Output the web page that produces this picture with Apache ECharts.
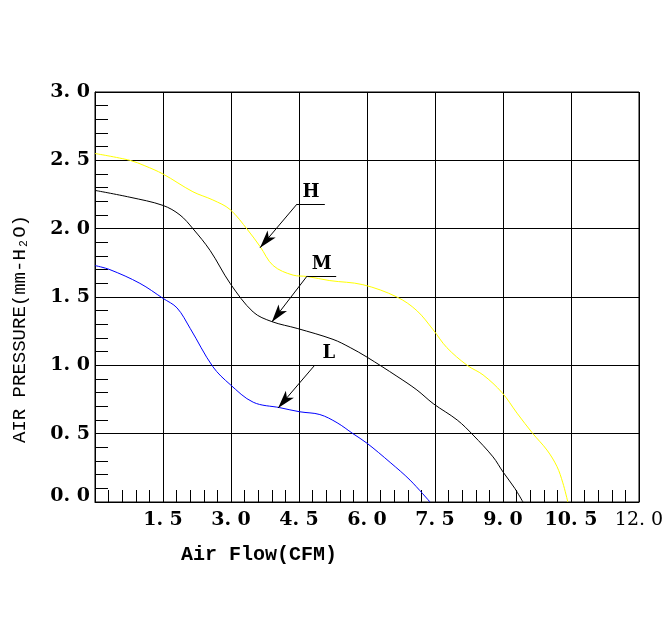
<!DOCTYPE html>
<html>
<head>
<meta charset="utf-8">
<script src="https://cdn.jsdelivr.net/npm/echarts@6/dist/echarts.min.js"></script>
<style>html,body{margin:0;padding:0;background:#fff;}#c{width:667px;height:630px;}</style>
</head>
<body>
<div id="c"></div>
<script>
// Air flow (CFM) / pressure (mm-H2O) readings
const hFlow = [0, 0.77, 1.1, 1.5, 2.16, 2.6, 2.98, 3.37, 3.64, 3.93, 4.37, 4.68, 5.18, 5.91, 6.66, 7.10, 7.46, 7.76, 8.21, 8.56, 8.98, 9.31, 9.66, 9.97, 10.19, 10.32, 10.43];
const hPres = [2.55, 2.50, 2.46, 2.40, 2.27, 2.21, 2.14, 1.99, 1.87, 1.73, 1.66, 1.65, 1.62, 1.59, 1.50, 1.40, 1.26, 1.13, 1.00, 0.93, 0.80, 0.65, 0.50, 0.38, 0.26, 0.14, 0];
const mFlow = [0, 0.77, 1.5, 1.875, 2.16, 2.54, 2.98, 3.49, 3.90, 4.46, 5.25, 5.63, 6.0, 6.66, 7.10, 7.46, 7.99, 8.34, 8.78, 9.0, 9.26, 9.44];
const mPres = [2.28, 2.23, 2.17, 2.10, 2.00, 1.84, 1.60, 1.39, 1.32, 1.27, 1.19, 1.13, 1.06, 0.92, 0.82, 0.72, 0.60, 0.49, 0.33, 0.22, 0.10, 0];
const lFlow = [0, 0.33, 0.99, 1.5, 1.81, 2.1, 2.60, 2.98, 3.49, 4.08, 4.52, 4.96, 5.34, 5.69, 6.0, 6.51, 6.95, 7.39];
const lPres = [1.73, 1.70, 1.60, 1.49, 1.42, 1.27, 0.99, 0.86, 0.73, 0.69, 0.66, 0.64, 0.58, 0.50, 0.43, 0.29, 0.16, 0];

const seriesNames = ['H', 'M', 'L'];
// annotation anchors in data units: [underline start, underline end, arrow tip]
const annH = [[4.456, 2.18], [5.07, 2.18], [3.64, 1.86]];
const annM = [[4.68, 1.654], [5.32, 1.654], [3.90, 1.317]];
const annL = [[4.85, 1.002], [5.47, 1.002], [4.04, 0.688]];

const xTicks = {min: 0, max: 12, interval: 1.5};
const yTicks = {min: 0, max: 3, interval: 0.5};

const zip = (a, b) => a.map((v, i) => [v, b[i]]);
const fmt = v => v.toFixed(1).replace('.', '. ');
const numFont = '"DejaVu Serif", serif';

function annLines(a, name) {
  return [
    [{coord: a[0], symbol: 'none'}, {coord: a[2], symbol: 'arrow'}],
    [{coord: a[0], symbol: 'none', label: {show: true, formatter: name, position: 'insideMiddleTop', distance: 3,
      fontFamily: numFont, fontWeight: 'bold', fontSize: 18, color: '#000'}},
     {coord: a[1], symbol: 'none'}]
  ];
}

const chart = echarts.init(document.getElementById('c'), null, {renderer: 'canvas'});
chart.setOption({
  animation: false,
  backgroundColor: '#fff',
  grid: {left: 95, right: 28, top: 92, bottom: 128, containLabel: false,
         show: true, borderColor: '#000', borderWidth: 1},
  xAxis: {
    type: 'value', min: xTicks.min, max: xTicks.max, interval: xTicks.interval,
    axisLine: {show: true, lineStyle: {color: '#000', width: 1}},
    axisTick: {show: true, inside: true, length: 12, lineStyle: {color: '#000'}},
    minorTick: {show: true, splitNumber: 5, length: 12, lineStyle: {color: '#000'}},
    splitLine: {show: true, lineStyle: {color: '#000', width: 1}},
    axisLabel: {
      showMinLabel: false, margin: 9,
      formatter: v => (v === 12 ? '{n|' + fmt(v) + '}' : '{b|' + fmt(v) + '}'),
      rich: {
        b: {fontFamily: numFont, fontWeight: 'bold', fontSize: 19, color: '#000'},
        n: {fontFamily: numFont, fontWeight: 'normal', fontSize: 19, color: '#000'}
      }
    }
  },
  yAxis: {
    type: 'value', min: yTicks.min, max: yTicks.max, interval: yTicks.interval,
    axisLine: {show: true, lineStyle: {color: '#000', width: 1}},
    axisTick: {show: true, inside: true, length: 13, lineStyle: {color: '#000'}},
    minorTick: {show: true, splitNumber: 5, length: 13, lineStyle: {color: '#000'}},
    splitLine: {show: true, lineStyle: {color: '#000', width: 1}},
    axisLabel: {
      margin: 5,
      formatter: v => (v === 0 ? '{z|' + fmt(v) + '}' : '{b|' + fmt(v) + '}'),
      rich: {
        b: {fontFamily: numFont, fontWeight: 'bold', fontSize: 19, color: '#000'},
        z: {fontFamily: numFont, fontWeight: 'bold', fontSize: 19, color: '#000', padding: [0, 0, 12, 0]}
      }
    }
  },
  graphic: [
    {type: 'text', left: 181, top: 545,
     style: {text: 'Air Flow(CFM)', font: 'bold 20px "Liberation Mono", monospace', fill: '#000'}},
    {type: 'text', x: 20, y: 329, rotation: Math.PI / 2,
     style: {text: 'AIR PRESSURE(mm-H₂O)', font: '19px "Liberation Mono", monospace', fill: '#000',
             align: 'center', verticalAlign: 'middle'}}
  ],
  series: [
    {name: seriesNames[0], type: 'line', data: zip(hFlow, hPres), smooth: 0.35, symbol: 'none',
     lineStyle: {color: '#ffff00', width: 1}},
    {name: seriesNames[1], type: 'line', data: zip(mFlow, mPres), smooth: 0.35, symbol: 'none',
     lineStyle: {color: '#000000', width: 1}},
    {name: seriesNames[2], type: 'line', data: zip(lFlow, lPres), smooth: 0.35, symbol: 'none',
     lineStyle: {color: '#0000ff', width: 1}},
    {type: 'line', data: [], silent: true,
     markLine: {
       silent: true, animation: false, symbolSize: [8, 18],
       lineStyle: {color: '#000', width: 1, type: 'solid'},
       itemStyle: {color: '#000'},
       label: {show: false},
       emphasis: {disabled: true},
       data: [].concat(annLines(annH, seriesNames[0]), annLines(annM, seriesNames[1]), annLines(annL, seriesNames[2]))
     }}
  ]
});
</script>
</body>
</html>
